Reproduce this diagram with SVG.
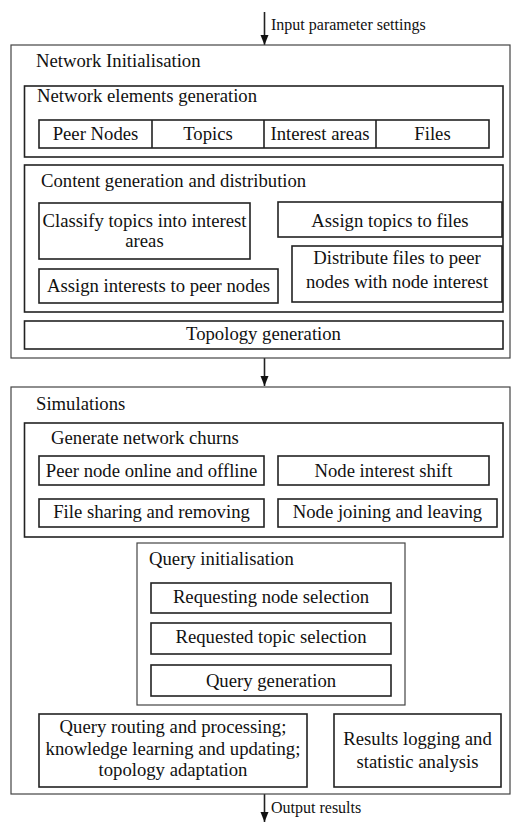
<svg xmlns="http://www.w3.org/2000/svg" width="513" height="822" viewBox="0 0 513 822" font-family="'Liberation Serif', 'Times New Roman', Times, 'DejaVu Serif', serif">
<style>
text{font-family:"Liberation Serif","Times New Roman",Times,"DejaVu Serif",serif;font-size:18.7px;fill:#111}
.c{text-anchor:middle}
.s{font-size:16px}
.outer{fill:none;stroke:#444;stroke-width:1.2}
.box{fill:none;stroke:#222;stroke-width:1.6}
.ln{stroke:#222;stroke-width:1.6;fill:none}
</style>
<defs>
<marker id="ah" viewBox="0 0 10 10" refX="10" refY="5" markerWidth="10" markerHeight="10" markerUnits="userSpaceOnUse" orient="auto">
<path d="M0,1 L10,5 L0,9 Z" fill="#111"/>
</marker>
</defs>
<g id="connectors">
<line class="ln" x1="264.5" y1="12" x2="264.5" y2="45" marker-end="url(#ah)"/>
<line class="ln" x1="264.5" y1="358" x2="264.5" y2="386" marker-end="url(#ah)"/>
<line class="ln" x1="264.5" y1="794" x2="264.5" y2="822" marker-end="url(#ah)"/>
<text class="s" x="271" y="30">Input parameter settings</text>
<text class="s" x="271" y="813">Output results</text>
</g>
<g id="network-initialisation">
<rect class="outer" x="11" y="45" width="499" height="313"/>
<text x="36" y="67">Network Initialisation</text>
</g>
<g id="network-elements">
<rect class="box" x="24.5" y="86" width="478.5" height="71"/>
<text x="37" y="102">Network elements generation</text>
</g>
<g id="elements-row">
<rect class="box" x="39" y="120" width="450" height="28"/>
<line class="box" x1="152" y1="120" x2="152" y2="148"/>
<line class="box" x1="264" y1="120" x2="264" y2="148"/>
<line class="box" x1="376" y1="120" x2="376" y2="148"/>
<text class="c" x="95.5" y="140">Peer Nodes</text>
<text class="c" x="208" y="140">Topics</text>
<text class="c" x="320" y="140">Interest areas</text>
<text class="c" x="432.5" y="140">Files</text>
</g>
<g id="content-generation">
<rect class="box" x="24.5" y="165" width="478.5" height="147"/>
<text x="41" y="187">Content generation and distribution</text>
</g>
<g id="classify">
<rect class="box" x="39" y="203" width="211" height="56"/>
<text class="c" x="144.5" y="227">Classify topics into interest</text>
<text class="c" x="144.5" y="247">areas</text>
</g>
<g id="assign-topics">
<rect class="box" x="278" y="202" width="224" height="35"/>
<text class="c" x="390" y="227">Assign topics to files</text>
</g>
<g id="assign-interests">
<rect class="box" x="39" y="269" width="239" height="34"/>
<text class="c" x="158.5" y="292">Assign interests to peer nodes</text>
</g>
<g id="distribute">
<rect class="box" x="292" y="246" width="210" height="56"/>
<text class="c" x="397" y="264">Distribute files to peer</text>
<text class="c" x="397" y="288">nodes with node interest</text>
</g>
<g id="topology">
<rect class="box" x="24.5" y="321" width="478.5" height="28"/>
<text class="c" x="263.5" y="340">Topology generation</text>
</g>
<g id="simulations">
<rect class="outer" x="11" y="387" width="499" height="407"/>
<text x="36" y="410">Simulations</text>
</g>
<g id="churns">
<rect class="box" x="24.5" y="423" width="478.5" height="114"/>
<text x="51" y="444">Generate network churns</text>
</g>
<g id="peer-online">
<rect class="box" x="39" y="456" width="225" height="29"/>
<text class="c" x="151.5" y="477">Peer node online and offline</text>
</g>
<g id="interest-shift">
<rect class="box" x="278" y="456" width="211" height="29"/>
<text class="c" x="383.5" y="477">Node interest shift</text>
</g>
<g id="file-sharing">
<rect class="box" x="39" y="499" width="225" height="28"/>
<text class="c" x="151.5" y="518">File sharing and removing</text>
</g>
<g id="node-joining">
<rect class="box" x="278" y="499" width="219" height="28"/>
<text class="c" x="387.5" y="518">Node joining and leaving</text>
</g>
<g id="query-init">
<rect class="outer" x="137" y="543" width="268" height="162"/>
<text x="149" y="565">Query initialisation</text>
</g>
<g id="requesting-node">
<rect class="box" x="151" y="583" width="240" height="30"/>
<text class="c" x="271" y="603">Requesting node selection</text>
</g>
<g id="requested-topic">
<rect class="box" x="151" y="623" width="240" height="31"/>
<text class="c" x="271" y="643">Requested topic selection</text>
</g>
<g id="query-generation">
<rect class="box" x="151" y="665" width="240" height="31" stroke-width="2"/>
<text class="c" x="271" y="687">Query generation</text>
</g>
<g id="query-routing">
<rect class="box" x="39" y="714" width="268" height="73"/>
<text class="c" x="173" y="733">Query routing and processing;</text>
<text class="c" x="173" y="755">knowledge learning and updating;</text>
<text class="c" x="173" y="776">topology adaptation</text>
</g>
<g id="results-logging">
<rect class="box" x="334" y="714" width="167" height="73"/>
<text class="c" x="417.5" y="745">Results logging and</text>
<text class="c" x="417.5" y="768">statistic analysis</text>
</g>
</svg>
